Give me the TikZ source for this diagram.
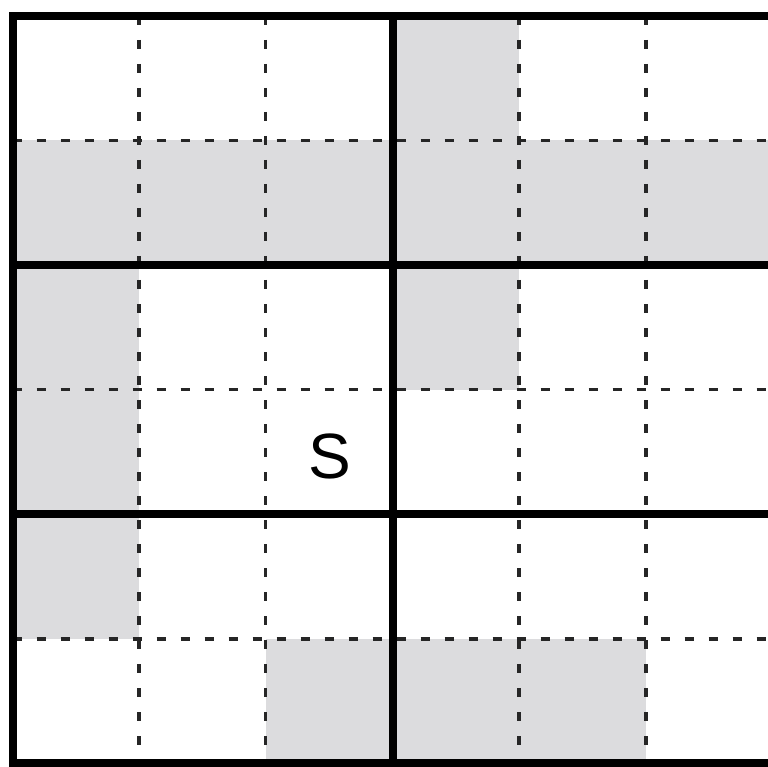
\documentclass[tikz,border=0pt]{standalone}
\usepackage{fontspec}
\setmainfont{Liberation Sans}
\definecolor{shade}{RGB}{220,220,222}
\begin{document}
\begin{tikzpicture}[x=1pt,y=-1pt,
  cellfill/.style={fill=shade},
  thingrid/.style={line width=3.5pt, dash pattern=on 9pt off 15pt, black!85},
  thickgrid/.style={line width=8pt, black},
  label/.style={inner sep=0pt, font=\fontsize{64}{64}\selectfont}]
\useasboundingbox (0,0) rectangle (768,767);
\fill[white] (0,0) rectangle (768,767);
\clip (0,0) rectangle (768,767);
% shaded cells
\fill[cellfill] (392.5,16) rectangle (519,140.5);
\fill[cellfill] (12.5,140.5) rectangle (773,265);
\fill[cellfill] (12.5,265) rectangle (139,389.5);
\fill[cellfill] (392.5,265) rectangle (519,389.5);
\fill[cellfill] (12.5,389.5) rectangle (139,639);
\fill[cellfill] (265.5,639) rectangle (646,763);
% dashed grid
\foreach \y in {140.5,389.5,639} \draw[thingrid] (12.5,\y) -- (773,\y);
\foreach \x in {139,265.5,519,646} \draw[thingrid] (\x,16) -- (\x,763);
% thick grid
\draw[thickgrid] (12.5,16) rectangle (773,763);
\draw[thickgrid] (392.5,16) -- (392.5,763);
\draw[thickgrid] (12.5,265) -- (773,265);
\draw[thickgrid] (12.5,514) -- (773,514);
% label
\node[label] (s) at (330,456) {S};
\end{tikzpicture}
\end{document}
